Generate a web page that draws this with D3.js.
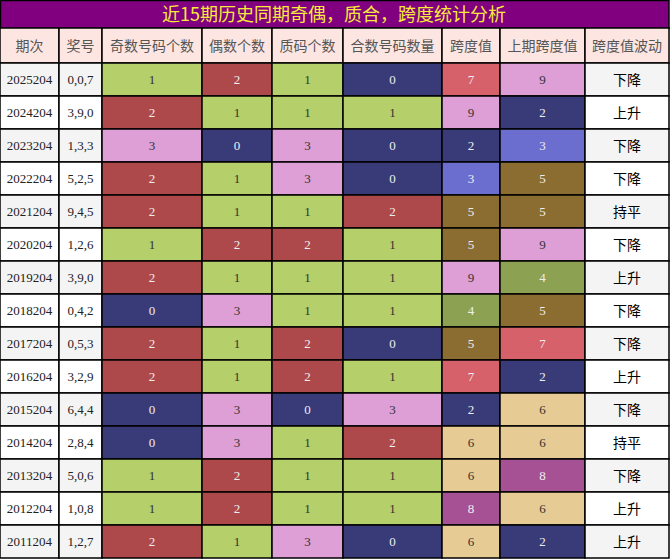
<!DOCTYPE html>
<html><head><meta charset="utf-8">
<script src="https://cdn.jsdelivr.net/npm/d3@7"></script>
<style>html,body{margin:0;padding:0;background:#fff;}svg{display:block;}</style>
</head><body><div id="chart"></div>
<script>
const title = "近15期历史同期奇偶，质合，跨度统计分析";
const headers = ["期次","奖号","奇数号码个数","偶数个数","质码个数","合数号码数量","跨度值","上期跨度值","跨度值波动"];
const periods = ["2025204","2024204","2023204","2022204","2021204","2020204","2019204","2018204","2017204","2016204","2015204","2014204","2013204","2012204","2011204"];
const draws = ["0,0,7","3,9,0","1,3,3","5,2,5","9,4,5","1,2,6","3,9,0","0,4,2","0,5,3","3,2,9","6,4,4","2,8,4","5,0,6","1,0,8","1,2,7"];
const oddCount   = [1,2,3,2,2,1,2,0,2,2,0,0,1,1,2];
const evenCount  = [2,1,0,1,1,2,1,3,1,1,3,3,2,2,1];
const primeCount = [1,1,3,3,1,2,1,1,2,2,0,1,1,1,3];
const compCount  = [0,1,0,0,2,1,1,1,0,1,3,2,1,1,0];
const span       = [7,9,2,3,5,5,9,4,5,7,2,6,6,8,6];
const prevSpan   = [9,2,3,5,5,9,4,5,7,2,6,6,8,6,2];
const trend      = ["下降","上升","下降","下降","持平","下降","上升","下降","下降","上升","下降","持平","下降","上升","上升"];

const W = 670, H = 559;
const colEdges = [0, 59, 102, 202, 272, 343, 442, 500, 585, 669];
const titleH = 28, headerTop = 28, headerBottom = 63, bottom = 558;

const countColor = d3.scaleOrdinal().domain([0,1,2,3]).range(["#393b79","#b5cf6b","#ad494a","#de9ed6"]);
const spanColor = d3.scaleOrdinal().domain([2,3,4,5,6,7,8,9]).range(["#393b79","#6b6ecf","#8ca252","#8c6d31","#e7cb94","#d6616b","#a55194","#de9ed6"]);
const lightBg = new Set(["#b5cf6b","#de9ed6","#e7cb94"]);

const svg = d3.select("#chart").append("svg").attr("width", W).attr("height", H);

const y = d3.scaleBand().domain(d3.range(periods.length)).range([headerBottom, bottom]);

// title
svg.append("rect").attr("x",0.5).attr("y",0.5).attr("width",668.5).attr("height",titleH)
  .attr("fill","#800080").attr("stroke","#000").attr("stroke-width",1.5);
svg.append("text").attr("x",334).attr("y",21).attr("text-anchor","middle")
  .attr("font-family","'Noto Sans CJK SC','Noto Sans',sans-serif").attr("font-size",18)
  .attr("fill","#f7ea3a").text(title);

// header
headers.forEach((h,i)=>{
  const x0 = colEdges[i], x1 = colEdges[i+1];
  svg.append("rect").attr("x",x0).attr("y",headerTop).attr("width",x1-x0).attr("height",headerBottom-headerTop)
    .attr("fill","#fde6e1").attr("stroke","#000").attr("stroke-width",1.5);
  svg.append("text").attr("x",(x0+x1)/2).attr("y",(headerTop+headerBottom)/2+5).attr("text-anchor","middle")
    .attr("font-family","'Noto Sans CJK SC',sans-serif").attr("font-size",14).attr("fill","#555").text(h);
});

const rows = periods.map((p,i)=>({i, cells:[
  {t:p, bg: i%2===0?"#f4f4f4":"#ffffff", fg:"#222", serif:true},
  {t:draws[i], bg: i%2===0?"#f4f4f4":"#ffffff", fg:"#222", serif:true},
  {t:oddCount[i], bg: countColor(oddCount[i]), serif:true},
  {t:evenCount[i], bg: countColor(evenCount[i]), serif:true},
  {t:primeCount[i], bg: countColor(primeCount[i]), serif:true},
  {t:compCount[i], bg: countColor(compCount[i]), serif:true},
  {t:span[i], bg: spanColor(span[i]), serif:true},
  {t:prevSpan[i], bg: spanColor(prevSpan[i]), serif:true},
  {t:trend[i], bg: i%2===0?"#f4f4f4":"#ffffff", fg:"#000", serif:false}
]}));

const g = svg.selectAll("g.row").data(rows).join("g").attr("class","row")
  .attr("transform", d=>`translate(0,${y(d.i)})`);
g.each(function(d){
  const gg = d3.select(this);
  d.cells.forEach((c,j)=>{
    const x0 = colEdges[j], x1 = colEdges[j+1];
    gg.append("rect").attr("x",x0).attr("y",0).attr("width",x1-x0).attr("height",y.bandwidth())
      .attr("fill",c.bg).attr("stroke","#000").attr("stroke-width",1.5);
    const fg = c.fg || (lightBg.has(c.bg) ? "#333" : "#eeeeee");
    gg.append("text").attr("x",(x0+x1)/2).attr("y",y.bandwidth()/2+(c.serif?4.5:5)).attr("text-anchor","middle")
      .attr("font-family", c.serif ? "'Liberation Serif','Times New Roman',serif" : "'Noto Sans CJK SC',sans-serif")
      .attr("font-size", c.serif ? 13 : 14).attr("fill",fg).text(c.t);
  });
});
</script></body></html>
